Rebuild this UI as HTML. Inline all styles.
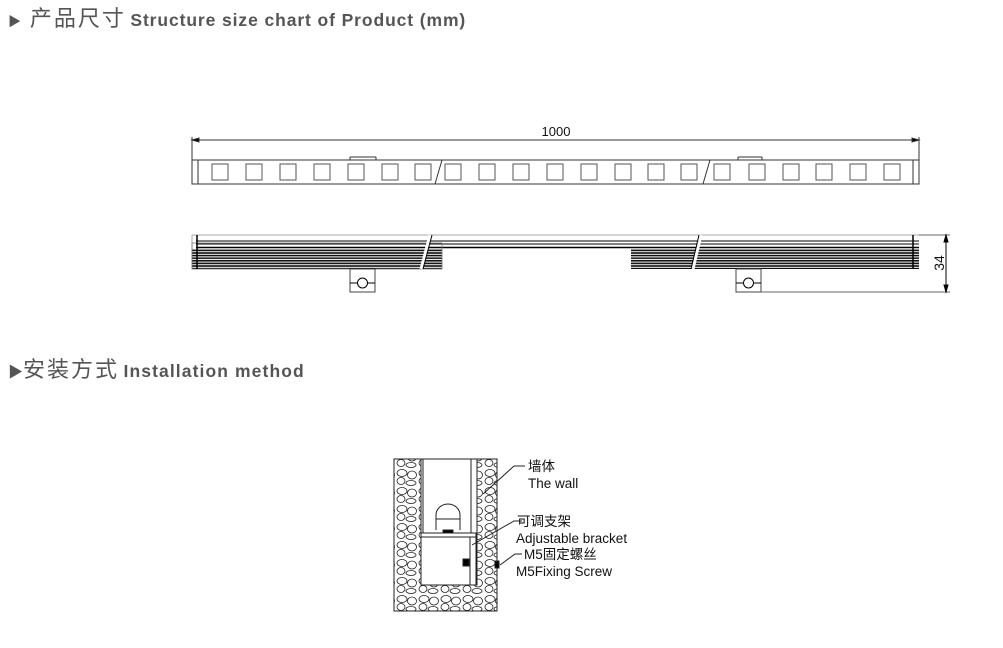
<!DOCTYPE html>
<html><head><meta charset="utf-8"><style>
html,body{margin:0;padding:0;background:#fff;}
body{width:1003px;height:648px;overflow:hidden;position:relative;font-family:"Liberation Sans","Noto Sans CJK SC",sans-serif;}
.h{position:absolute;left:8px;color:#555;white-space:nowrap;}
.h .cn{font-size:22px;letter-spacing:2px;}
.h .en{font-size:17.5px;font-weight:bold;letter-spacing:0.9px;}
</style></head><body>
<div class="h" style="top:1px;"><span style="font-size:13px">▶</span>&nbsp;&nbsp;<span class="cn">产品尺寸</span> <span class="en">Structure size chart of Product (mm)</span></div>
<div class="h" style="top:352px;"><span style="font-size:15px">▶</span><span class="cn">安装方式</span> <span class="en" style="letter-spacing:1.1px">Installation method</span></div>
<svg width="1003" height="648" style="position:absolute;left:0;top:0" xmlns="http://www.w3.org/2000/svg">
<defs>
<pattern id="st" width="22" height="18" patternUnits="userSpaceOnUse">
<ellipse cx="6" cy="5" rx="5" ry="3.5" fill="none" stroke="#222" stroke-width="0.8"/>
<ellipse cx="16" cy="7" rx="4.5" ry="4" fill="none" stroke="#222" stroke-width="0.8"/>
<ellipse cx="5" cy="13" rx="4" ry="3.5" fill="none" stroke="#222" stroke-width="0.8"/>
<ellipse cx="15" cy="15" rx="5" ry="2.5" fill="none" stroke="#222" stroke-width="0.8"/>
</pattern>
<pattern id="fin" width="4" height="2.6" patternUnits="userSpaceOnUse">
<rect width="4" height="1.6" fill="#111"/>
</pattern>
</defs>
<g stroke="#333" fill="none" stroke-width="1">
<line x1="192" y1="140" x2="919" y2="140"/>
<line x1="192" y1="137" x2="192" y2="184"/>
<line x1="919" y1="137" x2="919" y2="184"/>
<path d="M192 140 l7 -2 v4z M919 140 l-7 -2 v4z" fill="#000"/>
<rect x="192" y="160" width="727" height="24"/>
<line x1="198" y1="160" x2="198" y2="184"/>
<line x1="913" y1="160" x2="913" y2="184"/>
<line x1="350" y1="157" x2="376" y2="157"/><line x1="350" y1="157" x2="350" y2="160"/><line x1="376" y1="157" x2="376" y2="160"/>
<line x1="738" y1="157" x2="762" y2="157"/><line x1="738" y1="157" x2="738" y2="160"/><line x1="762" y1="157" x2="762" y2="160"/>
<line x1="435" y1="184" x2="442" y2="160"/>
<line x1="703" y1="184" x2="710" y2="160"/>
<g stroke="#555">
<rect x="212" y="164" width="16" height="16"/><rect x="246" y="164" width="16" height="16"/><rect x="280" y="164" width="16" height="16"/><rect x="314" y="164" width="16" height="16"/><rect x="348" y="164" width="16" height="16"/><rect x="382" y="164" width="16" height="16"/><rect x="415" y="164" width="16" height="16"/>
<rect x="445" y="164" width="16" height="16"/><rect x="479" y="164" width="16" height="16"/><rect x="513" y="164" width="16" height="16"/><rect x="547" y="164" width="16" height="16"/><rect x="581" y="164" width="16" height="16"/><rect x="615" y="164" width="16" height="16"/><rect x="648" y="164" width="16" height="16"/><rect x="681" y="164" width="16" height="16"/>
<rect x="714" y="164" width="16" height="16"/><rect x="749" y="164" width="16" height="16"/><rect x="783" y="164" width="16" height="16"/><rect x="816" y="164" width="16" height="16"/><rect x="850" y="164" width="16" height="16"/><rect x="884" y="164" width="16" height="16"/>
</g>
<line x1="192" y1="235" x2="919" y2="235" stroke="#aaa"/>
<line x1="192" y1="235" x2="192" y2="268" stroke="#aaa"/>
<line x1="196" y1="241" x2="919" y2="241" stroke="#000"/>
<line x1="196" y1="244" x2="919" y2="244" stroke="#000"/>
<line x1="196" y1="247.5" x2="919" y2="247.5" stroke="#000" stroke-width="1.5"/>
</g>
<rect x="192" y="249" width="250" height="20" fill="url(#fin)"/>
<rect x="631" y="249" width="288" height="20" fill="url(#fin)"/>
<rect x="192" y="243" width="250" height="26" fill="none" stroke="#777" stroke-width="0.8"/>
<g stroke="#000" fill="none">
<line x1="197" y1="235" x2="197" y2="269" stroke-width="1.5"/>
<line x1="913" y1="235" x2="913" y2="269" stroke-width="1.5"/>
<line x1="421" y1="269" x2="430" y2="235" stroke="#fff" stroke-width="3"/>
<line x1="423" y1="269" x2="432" y2="235"/>
<line x1="693" y1="269" x2="701" y2="235" stroke="#fff" stroke-width="3"/>
<line x1="691" y1="269" x2="699" y2="235"/>
<rect x="350" y="269" width="25" height="23" stroke="#444"/>
<line x1="350" y1="283" x2="357" y2="283"/><line x1="368" y1="283" x2="375" y2="283"/><circle cx="362.5" cy="283" r="5"/>
<rect x="736" y="269" width="25" height="23" stroke="#444"/>
<line x1="736" y1="283" x2="743" y2="283"/><line x1="754" y1="283" x2="761" y2="283"/><circle cx="748.5" cy="283" r="5"/>
<line x1="919" y1="235" x2="950" y2="235" stroke="#666"/>
<line x1="761" y1="292" x2="950" y2="292" stroke="#666"/>
<line x1="946" y1="235" x2="946" y2="292"/>
<path d="M946 235 l-2 7 h4z M946 292 l-2 -7 h4z" fill="#000"/>
</g>
<text x="556" y="136" font-size="13" text-anchor="middle" font-family="Liberation Sans" fill="#111">1000</text>
<text transform="translate(944,263) rotate(-90)" font-size="14" text-anchor="middle" font-family="Liberation Sans" fill="#111">34</text>
<rect x="394" y="459" width="27" height="126" fill="url(#st)"/>
<rect x="477" y="459" width="20" height="126" fill="url(#st)"/>
<rect x="394" y="585" width="103" height="26" fill="url(#st)"/>
<g stroke="#222" fill="none">
<rect x="394" y="459" width="103" height="152"/>
<polyline points="421,459 421,585 477,585 477,459"/>
<rect x="423" y="459" width="48" height="74" fill="#fff"/>
<path d="M436 530 v-15 a12 11 0 0 1 24 0 v15" />
<line x1="436" y1="519" x2="460" y2="519"/>
<rect x="421" y="533" width="55" height="4" fill="#fff"/>
<rect x="421" y="537" width="49" height="48" fill="#fff"/>
<rect x="470" y="537" width="6" height="48" fill="#fff"/>
<rect x="443" y="530" width="10" height="3" fill="#000"/>
<rect x="463" y="559" width="6" height="7" fill="#000"/>
<rect x="495" y="561" width="4" height="7" fill="#000"/>
<polyline points="525,466 514,466 483,494"/>
<polyline points="522,521 514,521 472,545"/>
<polyline points="522,554 515,554 500,565"/>
</g>
<g font-family="'Liberation Sans','Noto Sans CJK SC',sans-serif" font-size="13.5" fill="#111">
<text x="528" y="471">墙体</text>
<text x="528" y="488">The wall</text>
<text x="517" y="526">可调支架</text>
<text x="516" y="543">Adjustable bracket</text>
<text x="524" y="559">M5固定螺丝</text>
<text x="516" y="576">M5Fixing Screw</text>
</g>
</svg>
</body></html>
